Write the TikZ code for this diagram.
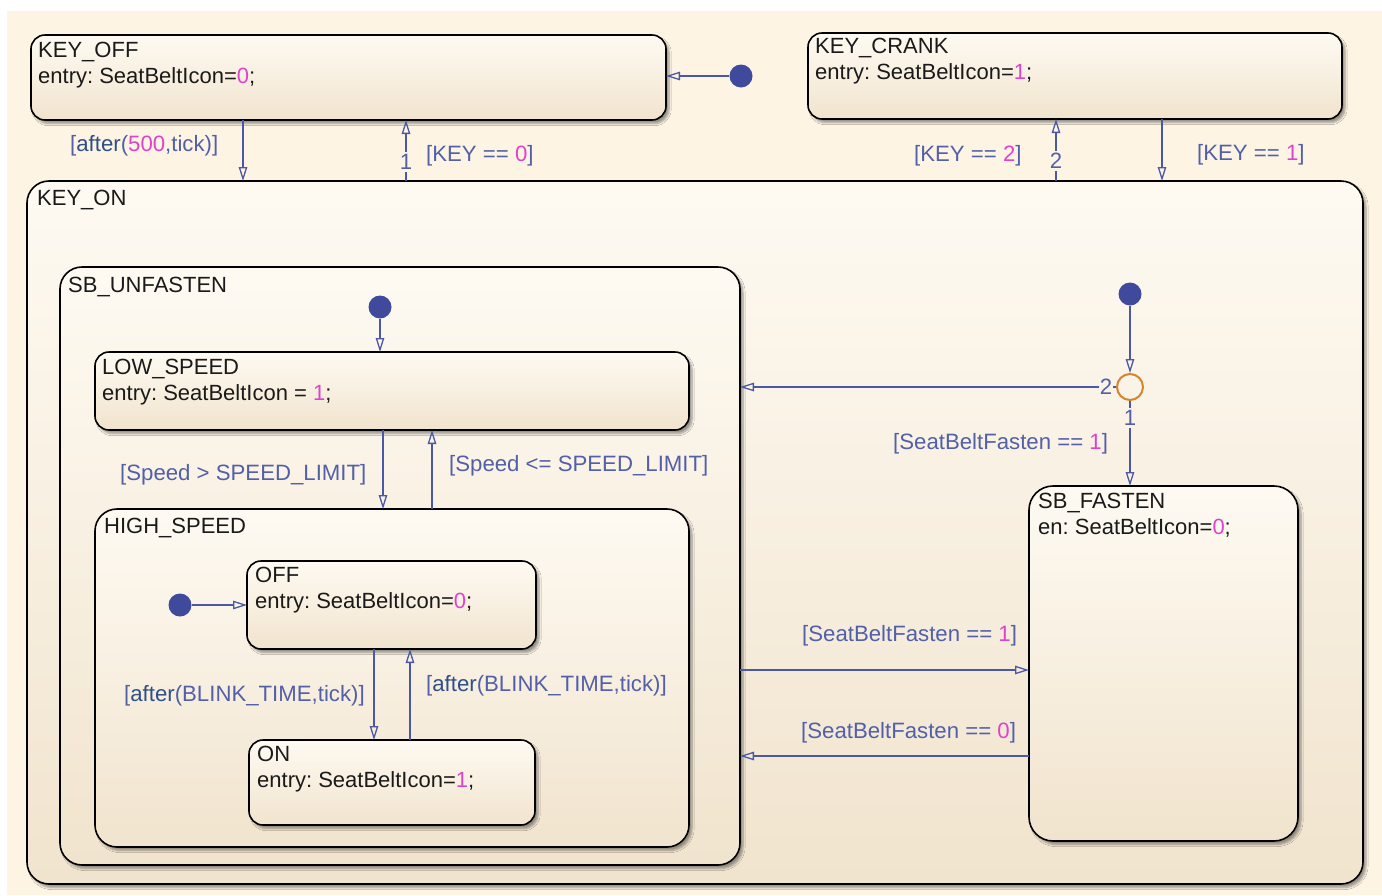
\documentclass[tikz,border=0pt]{standalone}
\usepackage{fontspec}
\setmainfont{Liberation Sans}
\usetikzlibrary{arrows.meta,shadows.blur,calc}
\frenchspacing

\definecolor{bg}{HTML}{FDF4E3}
\definecolor{stTop}{HTML}{FEFAF2}
\definecolor{stBot}{HTML}{F1E4CE}
\definecolor{trBlue}{HTML}{4B58A6}
\definecolor{lblBlue}{HTML}{5260A8}
\definecolor{kwBlue}{HTML}{2F4F86}
\definecolor{numMag}{HTML}{DD44CC}
\definecolor{juncOr}{HTML}{D3852F}
\definecolor{dotBlue}{HTML}{3F4A9C}
\definecolor{txt}{HTML}{1A1A1A}

\newcommand{\nm}[1]{\textcolor{numMag}{#1}}
\newcommand{\kw}[1]{\textcolor{kwBlue}{#1}}

\begin{document}
\frenchspacing
\begin{tikzpicture}[x=1pt,y=-1pt,
  statebox/.style={draw=black, line width=1.6pt, rounded corners=#1, inner sep=0pt, outer sep=0pt,
    anchor=north west, top color=stTop, bottom color=stBot,
    blur shadow={shadow xshift=3pt, shadow yshift=-3.5pt, shadow blur steps=6, shadow opacity=40}},
  statebox/.default=14pt,
  sttext/.style={anchor=base west, inner sep=0pt, font=\fontsize{22}{26}\selectfont, text=txt},
  lbl/.style={anchor=west, inner sep=0pt, font=\fontsize{22.2}{26}\selectfont, text=lblBlue},
  numl/.style={inner sep=2pt, font=\fontsize{22.2}{26}\selectfont, text=lblBlue},
  trl/.style={draw=trBlue, line width=1.4pt},
  tr/.style={trl, -{Triangle[open, length=14pt, width=8.5pt, line width=1.3pt]}},
  dotnode/.style={circle, fill=dotBlue, minimum size=23pt, inner sep=0pt},
  junc/.style={circle, draw=juncOr, line width=2pt, minimum size=26pt, inner sep=0pt}
]
\useasboundingbox (0,0) rectangle (1382,895);
\fill[white] (0,0) rectangle (1382,895);
\fill[bg] (7,11) rectangle (1382,895);

% states
\node[statebox=22pt, minimum width=1336pt, minimum height=703pt] (kon) at (27,181) {};
\node[statebox=22pt, minimum width=680pt, minimum height=598pt] (sbu) at (60,267) {};
\node[statebox, minimum width=594pt, minimum height=78pt] (low) at (95,352) {};
\node[statebox=22pt, minimum width=594pt, minimum height=338pt] (high) at (95,509) {};
\node[statebox, minimum width=289pt, minimum height=88pt] (off) at (247,561) {};
\node[statebox, minimum width=286pt, minimum height=85pt] (on) at (249,740) {};
\node[statebox=24pt, minimum width=269pt, minimum height=355pt] (sbf) at (1029,486) {};
\node[statebox, minimum width=635pt, minimum height=85pt] (koff) at (31,35) {};
\node[statebox, minimum width=534pt, minimum height=86pt] (kcr) at (808,33) {};

% state texts
\node[sttext] (koffN) at ($(koff.north west)+(7,22)$) {KEY\_OFF};
\node[sttext] (koffE) at ($(koff.north west)+(7,48)$) {entry: SeatBeltIcon=\nm{0};};
\node[sttext] (kcrN) at ($(kcr.north west)+(7,20)$) {KEY\_CRANK};
\node[sttext] (kcrE) at ($(kcr.north west)+(7,46)$) {entry: SeatBeltIcon=\nm{1};};
\node[sttext] (konN) at ($(kon.north west)+(10,24)$) {KEY\_ON};
\node[sttext] (sbuN) at ($(sbu.north west)+(8,25)$) {SB\_UNFASTEN};
\node[sttext] (lowN) at ($(low.north west)+(7,22)$) {LOW\_SPEED};
\node[sttext] (lowE) at ($(low.north west)+(7,48)$) {entry: SeatBeltIcon = \nm{1};};
\node[sttext] (highN) at ($(high.north west)+(9,24)$) {HIGH\_SPEED};
\node[sttext] (offN) at ($(off.north west)+(8,21)$) {OFF};
\node[sttext] (offE) at ($(off.north west)+(8,47)$) {entry: SeatBeltIcon=\nm{0};};
\node[sttext] (onN) at ($(on.north west)+(8,21)$) {ON};
\node[sttext] (onE) at ($(on.north west)+(8,47)$) {entry: SeatBeltIcon=\nm{1};};
\node[sttext] (sbfN) at ($(sbf.north west)+(9,22)$) {SB\_FASTEN};
\node[sttext] (sbfE) at ($(sbf.north west)+(9,48)$) {en: SeatBeltIcon=\nm{0};};

% default transitions and junction
\node[dotnode] (d1) at (741,76) {};
\node[dotnode] (d2) at (380,307) {};
\node[dotnode] (d3) at (180,605) {};
\node[dotnode] (d4) at (1130,294) {};
\node[junc] (jn) at (1130,387) {};

\draw[tr] (d1.west) -- (koff.east |- d1);
\draw[tr] (d2.south) -- (low.north -| d2);
\draw[tr] (d3.east) -- (off.west |- d3);
\draw[tr] (d4.south) -- (jn.north);

% coordinates for transition positions
\coordinate (c243) at (243,150);
\coordinate (c1162) at (1162,150);
\coordinate (c383) at (383,470);
\coordinate (c432) at (432,470);
\coordinate (c374) at (374,690);
\coordinate (c410) at (410,690);
\coordinate (h670) at (900,670);
\coordinate (h756) at (900,756);

% KEY level transitions
\draw[tr] (koff.south -| c243) -- (kon.north -| c243);
\node[numl] (n1) at (406,162) {1};
\draw[trl] (kon.north -| n1) -- (n1.south);
\draw[tr] (n1.north) -- (koff.south -| n1);
\node[numl] (n2) at (1056,161) {2};
\draw[trl] (kon.north -| n2) -- (n2.south);
\draw[tr] (n2.north) -- (kcr.south -| n2);
\draw[tr] (kcr.south -| c1162) -- (kon.north -| c1162);

% speed transitions
\draw[tr] (low.south -| c383) -- (high.north -| c383);
\draw[tr] (high.north -| c432) -- (low.south -| c432);
\draw[tr] (off.south -| c374) -- (on.north -| c374);
\draw[tr] (on.north -| c410) -- (off.south -| c410);

% junction transitions
\node[numl, inner sep=1pt] (j2) at (1106,387) {2};
\draw[trl] (j2.east) -- (jn.west);
\draw[tr] (j2.west) -- (sbu.east |- j2);
\node[numl] (j1) at (1130,418) {1};
\draw[trl] (jn.south) -- (j1.north);
\draw[tr] (j1.south) -- (sbf.north -| j1);

% fasten transitions
\draw[tr] (sbu.east |- h670) -- (sbf.west |- h670);
\draw[tr] (sbf.west |- h756) -- (sbu.east |- h756);

% labels
\node[lbl] (l1) at (70,146) {[\kw{after}(\nm{500},tick)]};
\node[lbl] (l2) at (426,156) {[KEY == \nm{0}]};
\node[lbl] (l3) at (914,156) {[KEY == \nm{2}]};
\node[lbl] (l4) at (1197,155) {[KEY == \nm{1}]};
\node[lbl] (l5) at (120,475) {[Speed > SPEED\_LIMIT]};
\node[lbl] (l6) at (449,466) {[Speed <= SPEED\_LIMIT]};
\node[lbl] (l7) at (124,696) {[\kw{after}(BLINK\_TIME,tick)]};
\node[lbl] (l8) at (426,686) {[\kw{after}(BLINK\_TIME,tick)]};
\node[lbl] (l9) at (893,444) {[SeatBeltFasten == \nm{1}]};
\node[lbl] (l10) at (802,636) {[SeatBeltFasten == \nm{1}]};
\node[lbl] (l11) at (801,733) {[SeatBeltFasten == \nm{0}]};
\end{tikzpicture}
\end{document}
